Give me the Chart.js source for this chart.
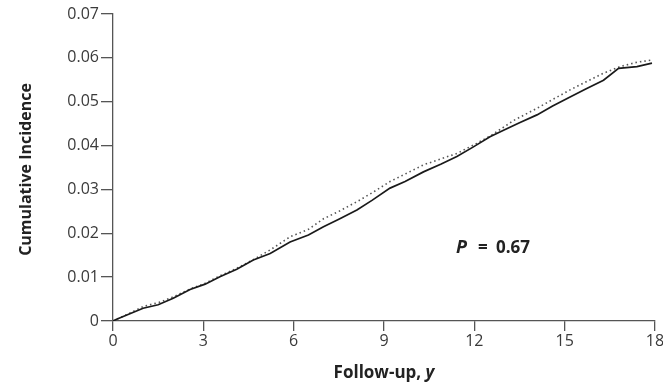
<!DOCTYPE html>
<html>
<head>
<meta charset="utf-8">
<script src="https://cdn.jsdelivr.net/npm/chart.js@4"></script>
<style>
  html, body { margin: 0; padding: 0; background: #fff; }
  #wrap { width: 663px; height: 387px; }
</style>
</head>
<body>
<div id="wrap"><canvas id="incidenceChart" width="663" height="387"></canvas></div>
<script>
// Cumulative incidence curves (solid and dotted groups)
const solidYears = [0, 0.12, 0.5, 1.0, 1.5, 2.0, 2.56, 3.06, 3.55, 4.11, 4.66, 5.22, 5.88, 6.49, 6.99, 7.5, 8.1, 8.6, 9.2, 9.7, 10.31, 10.9, 11.42, 11.97, 12.52, 12.97, 13.5, 14.08, 14.6, 15.18, 15.7, 16.29, 16.79, 17.4, 17.9];
const solidIncidence = [0, 0.0004, 0.0015, 0.0029, 0.0037, 0.0052, 0.0072, 0.0084, 0.0101, 0.0118, 0.0139, 0.0154, 0.018, 0.0196, 0.0215, 0.0232, 0.0253, 0.0275, 0.0303, 0.0318, 0.034, 0.0358, 0.0375, 0.0397, 0.042, 0.0435, 0.0452, 0.047, 0.049, 0.0511, 0.0529, 0.0549, 0.0576, 0.058, 0.0588];
const dottedYears = [0, 0.5, 1.0, 1.56, 2.0, 2.56, 3.06, 3.55, 4.11, 4.66, 5.22, 5.88, 6.49, 6.99, 7.5, 8.1, 8.6, 9.2, 9.7, 10.31, 10.9, 11.42, 12.08, 12.6, 13.3, 14.08, 14.6, 15.18, 15.7, 16.29, 16.84, 17.4, 17.9];
const dottedIncidence = [0, 0.0016, 0.0033, 0.0043, 0.0055, 0.0073, 0.0086, 0.0103, 0.012, 0.014, 0.0162, 0.0192, 0.0209, 0.0233, 0.025, 0.0272, 0.0292, 0.0318, 0.0335, 0.0356, 0.037, 0.0382, 0.0405, 0.0425, 0.0457, 0.0485, 0.0505, 0.0527, 0.0545, 0.0565, 0.058, 0.059, 0.0595];
const xTickStep = 3;
const yTickStep = 0.01;
const pValueText = '0.67';

const textColor = '#3a3a3a';
const titleColor = '#222';
const axisColor = '#555';
const fontFamily = '"Open Sans", "DejaVu Sans", sans-serif';

// titulos dos eixos e valor de P desenhados a mao (mistura de italico e negrito)
const annotationsPlugin = {
    id: 'annotations',
    afterDraw(chart) {
        const ctx = chart.ctx;
        const area = chart.chartArea;
        ctx.save();
        ctx.fillStyle = titleColor;
        ctx.textBaseline = 'middle';
        ctx.textAlign = 'left';

        // Follow-up, y
        const part1 = 'Follow-up, ';
        const part2 = 'y';
        ctx.font = 'bold 17px ' + fontFamily;
        const w1 = ctx.measureText(part1).width;
        ctx.font = 'italic bold 17px ' + fontFamily;
        const w2 = ctx.measureText(part2).width;
        const x0 = (area.left + area.right) / 2 - (w1 + w2) / 2;
        ctx.font = 'bold 17px ' + fontFamily;
        ctx.fillText(part1, x0, 373);
        ctx.font = 'italic bold 17px ' + fontFamily;
        ctx.fillText(part2, x0 + w1, 373);

        // P = 0.67
        ctx.font = 'italic bold 18px ' + fontFamily;
        ctx.fillText('P', 456, 248);
        ctx.font = 'bold 17px ' + fontFamily;
        ctx.fillText('=', 478, 248);
        ctx.fillText(pValueText, 496, 248);

        // Cumulative Incidence
        ctx.translate(26, (area.top + area.bottom) / 2 + 2);
        ctx.rotate(-Math.PI / 2);
        ctx.textAlign = 'center';
        ctx.font = 'bold 16px ' + fontFamily;
        ctx.fillText('Cumulative Incidence', 0, 0);
        ctx.restore();
    }
};

const ctxIncidence = document.getElementById('incidenceChart').getContext('2d');
const incidenceChart = new Chart(ctxIncidence, {
    type: 'line',
    data: {
        datasets: [{
            label: 'Grupo 1',
            data: solidYears.map((x, i) => ({ x: x, y: solidIncidence[i] })),
            borderColor: '#1a1a1a',
            borderWidth: 1.7,
            pointRadius: 0,
            tension: 0,
            fill: false
        }, {
            label: 'Grupo 2',
            data: dottedYears.map((x, i) => ({ x: x, y: dottedIncidence[i] })),
            borderColor: '#555',
            borderWidth: 1.6,
            borderDash: [1.5, 3],
            pointRadius: 0,
            tension: 0,
            fill: false
        }]
    },
    options: {
        responsive: false,
        animation: false,
        layout: { padding: { top: 14, right: 8, left: 0, bottom: 0 } },
        plugins: {
            legend: { display: false },
            tooltip: { enabled: false }
        },
        scales: {
            x: {
                type: 'linear',
                min: 0,
                max: 18,
                afterFit(scale) {
                    scale.height = 66;
                    scale.paddingRight = 0;
                    scale.paddingLeft = 0;
                },
                ticks: {
                    stepSize: xTickStep,
                    color: textColor,
                    font: { family: fontFamily, size: 16 },
                    padding: 1,
                    maxRotation: 0
                },
                grid: {
                    drawOnChartArea: false,
                    drawTicks: true,
                    tickLength: 10,
                    color: axisColor,
                    lineWidth: 1.3
                },
                border: { color: axisColor, width: 1.3 }
            },
            y: {
                min: 0,
                max: 0.07,
                afterFit(scale) {
                    scale.width = 113;
                    scale.paddingTop = 0;
                    scale.paddingBottom = 0;
                },
                ticks: {
                    stepSize: yTickStep,
                    color: textColor,
                    font: { family: fontFamily, size: 16 },
                    padding: 2,
                    callback: function(value) {
                        return value === 0 ? '0' : value.toFixed(2);
                    }
                },
                grid: {
                    drawOnChartArea: false,
                    drawTicks: true,
                    tickLength: 12,
                    color: axisColor,
                    lineWidth: 1.3
                },
                border: { color: axisColor, width: 1.3 }
            }
        }
    },
    plugins: [annotationsPlugin]
});
</script>
</body>
</html>
